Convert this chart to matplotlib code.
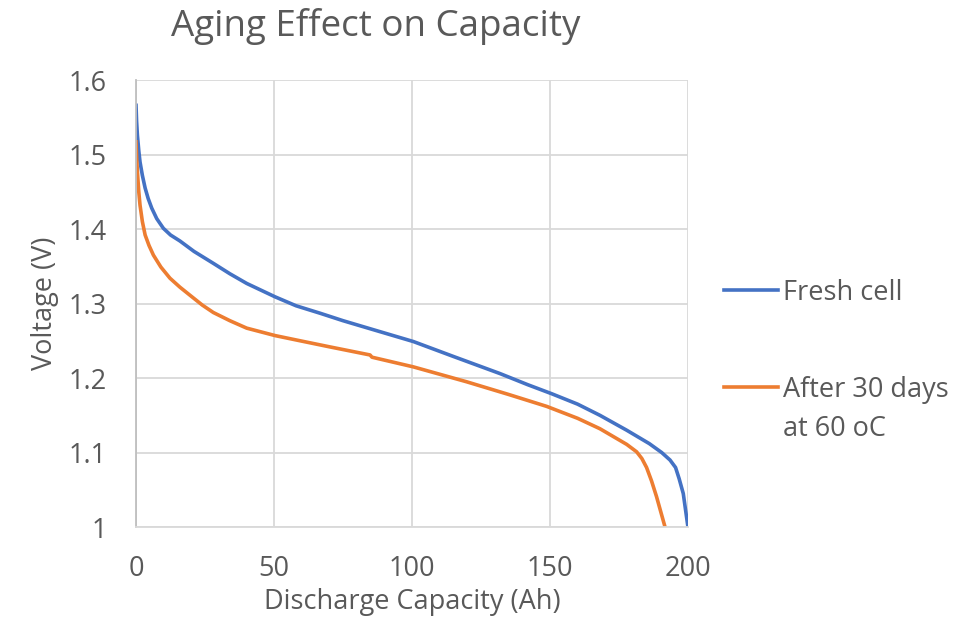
import matplotlib
matplotlib.use('Agg')
import matplotlib.pyplot as plt
from matplotlib.ticker import FuncFormatter

plt.rcParams['font.family'] = ['Open Sans', 'DejaVu Sans']

# data
fresh_x = [0, 0.2, 0.5, 1.0, 1.45, 2.3, 3.3, 4.4, 5.7, 7.5, 9.9, 12.5, 15.9, 21, 28,
           34, 40.1, 50.4, 58, 66.7, 75, 85, 100.5, 115, 131.9, 142, 150.6, 160,
           168.1, 177.8, 186, 190.5, 193.5, 195.5, 196.8, 198.3, 200]
fresh_v = [1.566, 1.545, 1.526, 1.505, 1.490, 1.472, 1.455, 1.441, 1.428, 1.414, 1.401,
           1.392, 1.384, 1.370, 1.354, 1.340, 1.327, 1.309, 1.297, 1.287, 1.277, 1.266,
           1.249, 1.229, 1.206, 1.191, 1.179, 1.165, 1.150, 1.130, 1.112, 1.100, 1.090,
           1.080, 1.065, 1.045, 1.0]
aged_x = [0, 0.2, 0.5, 1.0, 1.45, 2.3, 3.3, 4.7, 6.3, 9, 12.3, 15.9, 19.6, 24, 28,
          34, 40.1, 50.4, 58.2, 70, 84.8, 85.5, 100.5, 119.8, 135, 148.8, 160, 168.1,
          177.8, 181.4, 183.3, 185, 186.8, 188.6, 191.7]
aged_v = [1.517, 1.497, 1.477, 1.450, 1.432, 1.410, 1.392, 1.378, 1.365, 1.349, 1.334,
          1.322, 1.311, 1.298, 1.288, 1.277, 1.267, 1.257, 1.251, 1.242, 1.231, 1.228,
          1.215, 1.195, 1.178, 1.162, 1.146, 1.132, 1.111, 1.101, 1.092, 1.080, 1.062,
          1.041, 1.0]
x_ticks = [0, 50, 100, 150, 200]
y_ticks = [1, 1.1, 1.2, 1.3, 1.4, 1.5, 1.6]

txt = '#595959'
fig = plt.figure(figsize=(9.8, 6.32), dpi=100)
ax = fig.add_axes([0.1388, 0.166, 0.5632, 0.7074])

ax.plot(fresh_x, fresh_v, color='#4472C4', lw=2.6, label='Fresh cell',
        solid_joinstyle='round')
ax.plot(aged_x, aged_v, color='#ED7D31', lw=2.6, label='After 30 days',
        solid_joinstyle='round')

ax.set_xlim(0, 200)
ax.set_ylim(1, 1.6)
ax.set_xticks(x_ticks)
ax.set_yticks(y_ticks)
ax.yaxis.set_major_formatter(FuncFormatter(lambda v, p: ('%g' % round(v, 2))))
ax.grid(True, color='#d9d9d9', lw=1.3)
ax.set_axisbelow(True)
for s in ['top', 'right']:
    ax.spines[s].set_visible(False)
ax.spines['left'].set_color('#bfbfbf')
ax.spines['bottom'].set_color('#d9d9d9')
ax.spines['left'].set_linewidth(1.3)
ax.spines['bottom'].set_linewidth(1.3)
ax.tick_params(length=0, labelsize=19.5, colors=txt)
ax.tick_params(axis='y', pad=21)
ax.tick_params(axis='x', pad=20)

ax.set_xlabel('Discharge Capacity (Ah)', fontsize=19.5, color=txt, labelpad=4)
ax.set_ylabel('Voltage (V)', fontsize=19.5, color=txt, labelpad=7)
fig.text(0.3837, 0.958, 'Aging Effect on Capacity', fontsize=26.5, color=txt,
         ha='center', va='center')

leg = fig.legend(loc='upper left', bbox_to_anchor=(0.739, 0.559), frameon=False,
                 fontsize=19.5, handlelength=2.0, handletextpad=0.18,
                 labelspacing=2.55, borderpad=0, borderaxespad=0)
for t in leg.get_texts():
    t.set_color(txt)

# second line of the orange legend label sits under the first one
fig.canvas.draw()
bb = leg.get_texts()[1].get_window_extent().transformed(fig.transFigure.inverted())
fig.text(bb.x0, bb.y0 - 0.018, 'at 60 oC', fontsize=19.5, color=txt,
         ha='left', va='top')

fig.savefig('out.png', dpi=100)
